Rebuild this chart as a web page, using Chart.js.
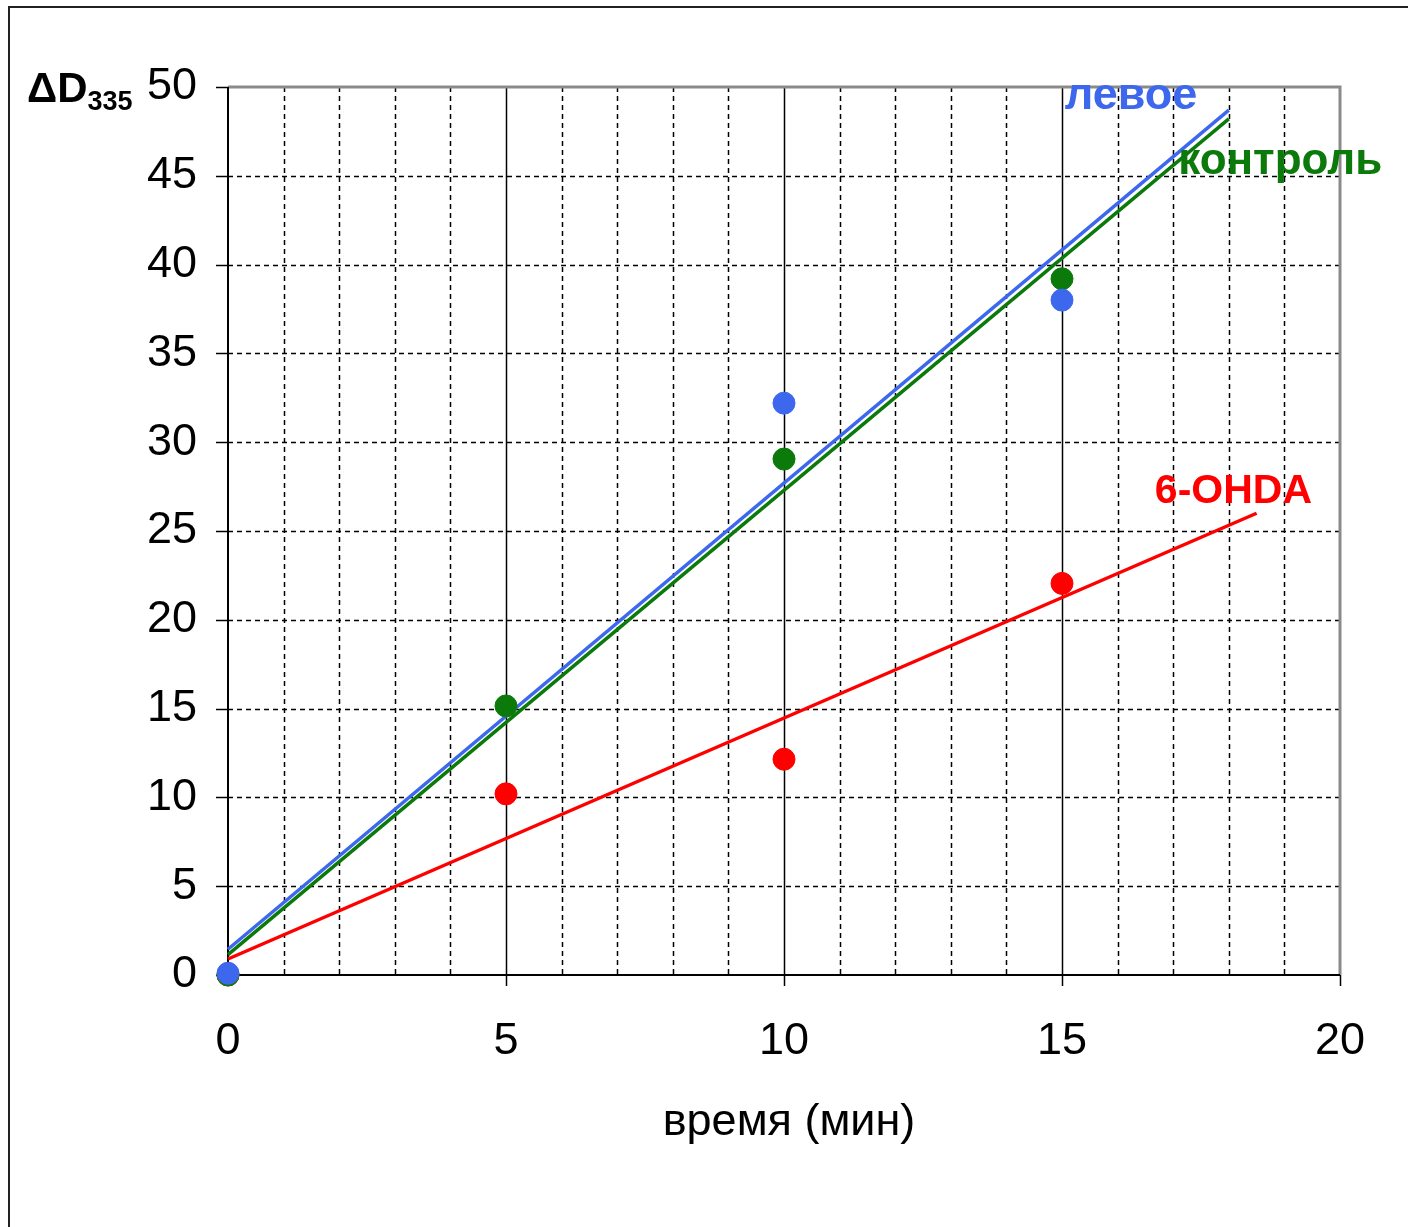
<!DOCTYPE html>
<html>
<head>
<meta charset="utf-8">
<script src="https://cdn.jsdelivr.net/npm/chart.js@4.4.1/dist/chart.umd.min.js"></script>
<style>
  html, body { margin: 0; padding: 0; background: #fff; }
  #wrap { width: 1408px; height: 1227px; }
</style>
</head>
<body>
<div id="wrap"><canvas id="chart" width="1408" height="1227"></canvas></div>
<script>
// время (мин)
const times = [0, 5, 10, 15];
// измеренные точки
const levoe = [0.1, null, 32.2, 38.0];
const kontrol = [0, 15.15, 29.05, 39.2];
const ohda = [0, 10.2, 12.15, 22.05];
// линии тренда (концы)
const trendX = [0, 18];
const levoeTrend = [1.45, 48.7];
const kontrolTrend = [1.15, 48.2];
const ohdaTrendX = [0, 18.5];
const ohdaTrend = [0.9, 26.0];
// подписи серий: [x, y] в единицах осей
const seriesLabels = [
    { text: 'левое', at: [15.05, 48.75], color: '#3d68ee', size: 45 },
    { text: 'контроль', at: [17.09, 45.1], color: '#0b7a0b', size: 44 },
    { text: '6-OHDA', at: [16.67, 26.55], color: '#ff0000', size: 41 }
];
const xMax = 20, yMax = 50;

const BLUE = '#3d68ee', GREEN = '#0b7a0b', RED = '#ff0000';
const tickFont = "'Liberation Sans', Arial, sans-serif";

const pts = (xs, ys) => xs.map((x, i) => ({ x: x, y: ys[i] })).filter(p => p.y !== null);

// сетка, оси, рамка и подписи
const decor = {
    id: 'decor',
    beforeDatasetsDraw(chart) {
        const { ctx, chartArea: a, scales: { x, y } } = chart;
        ctx.save();
        ctx.strokeStyle = '#000';
        ctx.lineWidth = 1.5;
        for (let v = 1; v < xMax; v++) {
            const px = Math.round(x.getPixelForValue(v)) + 0.5;
            ctx.setLineDash(v % 5 === 0 ? [] : [5, 4]);
            ctx.beginPath(); ctx.moveTo(px, a.top); ctx.lineTo(px, a.bottom); ctx.stroke();
        }
        ctx.setLineDash([5, 4]);
        for (let v = 5; v < yMax; v += 5) {
            const py = Math.round(y.getPixelForValue(v)) + 0.5;
            ctx.beginPath(); ctx.moveTo(a.left, py); ctx.lineTo(a.right, py); ctx.stroke();
        }
        ctx.setLineDash([]);
        // засечки
        for (let v = 0; v <= yMax; v += 5) {
            const py = Math.round(y.getPixelForValue(v)) + 0.5;
            ctx.beginPath(); ctx.moveTo(a.left - 12, py); ctx.lineTo(a.left, py); ctx.stroke();
        }
        for (let v = 5; v <= xMax; v += 5) {
            const px = Math.round(x.getPixelForValue(v)) + 0.5;
            ctx.beginPath(); ctx.moveTo(px, a.bottom); ctx.lineTo(px, a.bottom + 11); ctx.stroke();
        }
        // рамка области графика
        ctx.strokeStyle = '#8a8a8a';
        ctx.lineWidth = 3;
        ctx.beginPath(); ctx.moveTo(a.left, a.top); ctx.lineTo(a.right, a.top); ctx.lineTo(a.right, a.bottom); ctx.stroke();
        ctx.strokeStyle = '#000';
        ctx.lineWidth = 2;
        ctx.beginPath(); ctx.moveTo(a.left, a.top); ctx.lineTo(a.left, a.bottom); ctx.lineTo(a.right, a.bottom); ctx.stroke();
        ctx.restore();
    },
    afterDraw(chart) {
        const { ctx, scales: { x, y } } = chart;
        ctx.save();
        // внешняя рамка
        ctx.strokeStyle = '#222';
        ctx.lineWidth = 2;
        ctx.beginPath(); ctx.moveTo(9, 1227); ctx.lineTo(9, 7); ctx.lineTo(1408, 7); ctx.stroke();
        // подписи серий
        ctx.textAlign = 'left';
        ctx.textBaseline = 'alphabetic';
        seriesLabels.forEach(l => {
            ctx.font = `bold ${l.size}px 'Liberation Sans', Arial, sans-serif`;
            ctx.fillStyle = l.color;
            ctx.fillText(l.text, x.getPixelForValue(l.at[0]), y.getPixelForValue(l.at[1]));
        });
        // заголовок оси Y: ΔD335
        ctx.fillStyle = '#000';
        ctx.font = "bold 42px 'Liberation Sans', Arial, sans-serif";
        ctx.fillText('ΔD', 27, 102);
        const w = ctx.measureText('ΔD').width;
        ctx.font = "bold 27px 'Liberation Sans', Arial, sans-serif";
        ctx.fillText('335', 27 + w, 110);
        // заголовок оси X
        ctx.font = `45px ${tickFont}`;
        ctx.textAlign = 'center';
        ctx.textBaseline = 'middle';
        ctx.fillText('время (мин)', 789, 1123);
        ctx.restore();
    }
};

const pointStyle = c => ({ backgroundColor: c, borderColor: c, pointRadius: 11, pointHoverRadius: 11, clip: false });
const lineStyle = c => ({ showLine: true, borderColor: c, borderWidth: 3.5, pointRadius: 0, clip: false });

new Chart(document.getElementById('chart'), {
    type: 'scatter',
    data: {
        datasets: [
            { label: 'левое', data: pts(times, levoe), ...pointStyle(BLUE), order: 1 },
            { label: 'контроль', data: pts(times, kontrol), ...pointStyle(GREEN), order: 2 },
            { label: '6-OHDA', data: pts(times, ohda), ...pointStyle(RED), order: 3 },
            { label: 'левое тренд', data: pts(trendX, levoeTrend), ...lineStyle(BLUE), order: 4 },
            { label: 'контроль тренд', data: pts(trendX, kontrolTrend), ...lineStyle(GREEN), order: 5 },
            { label: '6-OHDA тренд', data: pts(ohdaTrendX, ohdaTrend), ...lineStyle(RED), order: 6 }
        ]
    },
    options: {
        responsive: false,
        animation: false,
        layout: { padding: { top: 87, right: 68, left: 0, bottom: 0 } },
        plugins: { legend: { display: false }, tooltip: { enabled: false } },
        scales: {
            x: {
                type: 'linear', min: 0, max: xMax,
                grid: { display: false, drawTicks: false },
                border: { display: false },
                ticks: {
                    stepSize: 5, autoSkip: false, maxRotation: 0, padding: 40,
                    color: '#000', font: { family: tickFont, size: 45 }
                },
                afterFit: s => { s.height = 1227 - 975; }
            },
            y: {
                type: 'linear', min: 0, max: yMax,
                grid: { display: false, drawTicks: false },
                border: { display: false },
                ticks: {
                    stepSize: 5, autoSkip: false, padding: 31,
                    color: '#000', font: { family: tickFont, size: 45 }
                },
                afterFit: s => { s.width = 228; }
            }
        }
    },
    plugins: [decor]
});
</script>
</body>
</html>
